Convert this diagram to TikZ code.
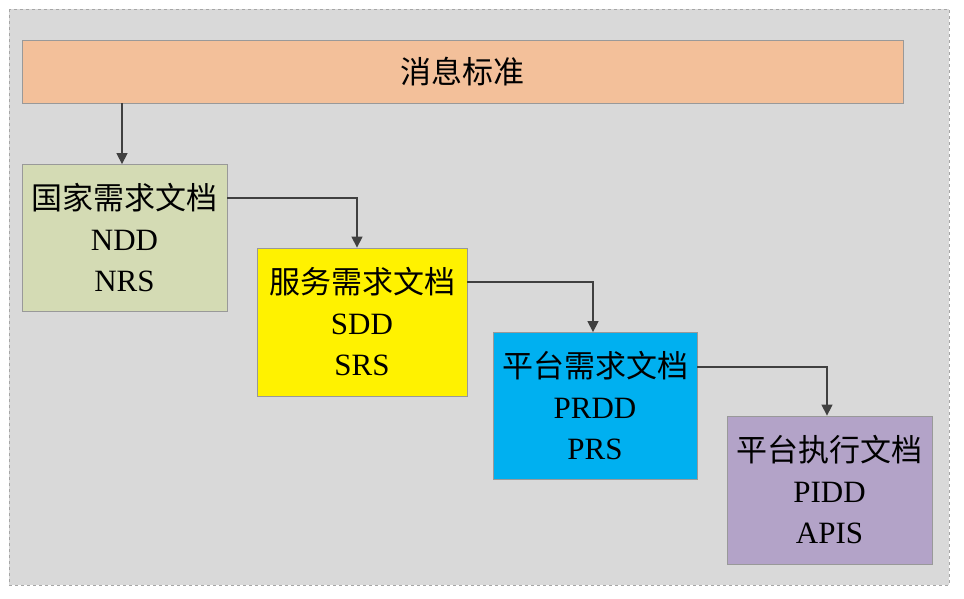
\documentclass[tikz,border=0pt]{standalone}
\usepackage{fontspec}
\setmainfont{Liberation Serif}
\newfontfamily\cjk{Noto Sans CJK SC}
\usepackage{xcolor}
\usepackage{tikz}
\usetikzlibrary{arrows.meta, calc, positioning}

\definecolor{bgGray}{HTML}{D9D9D9}
\definecolor{msgOrange}{HTML}{F3C09A}
\definecolor{ndsGreen}{HTML}{D4DBB4}
\definecolor{prdBlue}{HTML}{00B0F0}
\definecolor{pidPurple}{HTML}{B3A3C8}
\definecolor{arrGray}{HTML}{404040}

\tikzset{
  docbox/.style={draw=gray!80, line width=0.8pt, minimum width=205pt, minimum height=147pt,
    inner sep=0pt, align=center, font=\fontsize{31}{41}\selectfont},
  arr/.style={-{Triangle[length=11pt,width=11pt]}, draw=arrGray, line width=1.3pt}
}

\begin{document}
\begin{tikzpicture}[x=1pt, y=-1pt]
\useasboundingbox (0,0) rectangle (964,598);

% background
\draw[fill=bgGray, draw=gray!70, dashed, line width=0.6pt] (9,9) rectangle (949,585);

% message standard
\node[draw=gray!80, line width=0.8pt, fill=msgOrange, minimum width=881pt, minimum height=63pt,
  inner sep=0pt, font=\fontsize{31}{41}\selectfont] (msg) at (462.5,71.5) {\cjk 消息标准};

% documents
\node[docbox, fill=ndsGreen] (nds) at (124.5,238) {{\cjk 国家需求文档}\\NDD\\NRS};
\node[docbox, fill=yellow, minimum width=210pt, minimum height=148pt] (sds) at (362,322) {{\cjk 服务需求文档}\\SDD\\SRS};
\node[docbox, fill=prdBlue, minimum width=204pt] (prd) at (595,406) {{\cjk 平台需求文档}\\PRDD\\PRS};
\node[docbox, fill=pidPurple, minimum height=148pt] (pid) at (829.5,490) {{\cjk 平台执行文档}\\PIDD\\APIS};

% connectors
\draw[arr] ([xshift=-2.5pt]msg.south -| nds.north) -- ([xshift=-2.5pt]nds.north);
\draw[arr] ($(nds.east)+(0,-40)$) -| ([xshift=-5pt]sds.north);
\draw[arr] ($(sds.east)+(0,-40)$) -| ([xshift=-2pt]prd.north);
\draw[arr] ($(prd.east)+(0,-39)$) -| ([xshift=-2.5pt]pid.north);

\end{tikzpicture}
\end{document}
